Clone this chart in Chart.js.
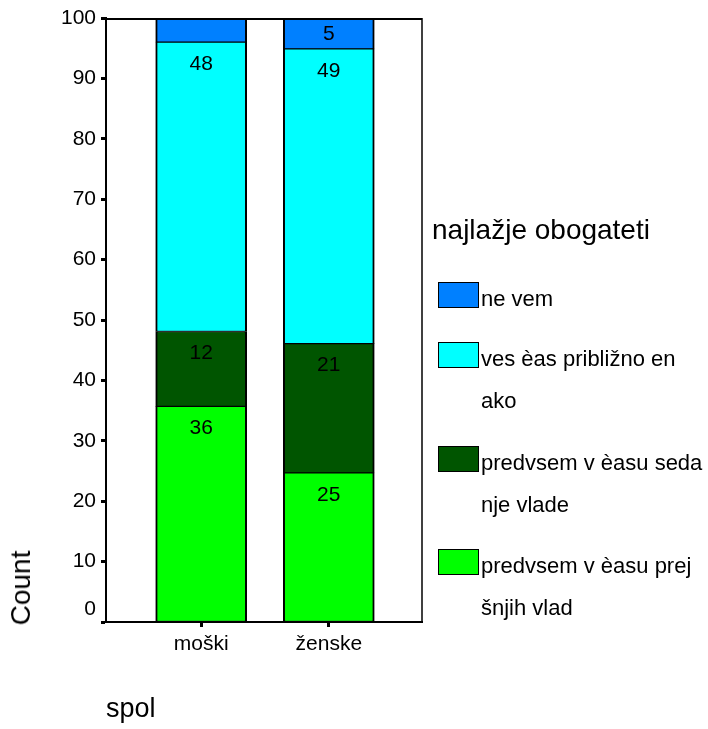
<!DOCTYPE html>
<html>
<head>
<meta charset="utf-8">
<script src="https://cdn.jsdelivr.net/npm/chart.js@4/dist/chart.umd.min.js"></script>
<style>
html,body{margin:0;padding:0;background:#fff;}
#wrap{position:relative;width:708px;height:729px;overflow:hidden;font-family:"Liberation Sans",Arial,sans-serif;color:#000;}
canvas{position:absolute;left:0;top:0;}
.t{position:absolute;white-space:nowrap;line-height:1;}
.box{position:absolute;box-sizing:border-box;border:1px solid #000;}
</style>
</head>
<body>
<div id="wrap">
<canvas id="c" width="708" height="729"></canvas>
<div id="legend"></div>
<div class="t" id="ytitle" style="font-size:28px;left:21px;top:588px;transform:translate(-50%,-50%) rotate(-90deg);">Count</div>
<div class="t" id="xtitle" style="font-size:27px;left:106px;top:695px;">spol</div>
</div>
<script>
// ---- data ----
const categories = ['moški', 'ženske'];
const seriesNames = [
  'predvsem v èasu prejšnjih vlad',
  'predvsem v èasu sedanje vlade',
  'ves èas približno enako',
  'ne vem'
];
const legendTitle = 'najlažje obogateti';
const legendLines = [
  ['predvsem v èasu prej', 'šnjih vlad'],
  ['predvsem v èasu seda', 'nje vlade'],
  ['ves èas približno en', 'ako'],
  ['ne vem']
];
const prejsnjihVlad = [35.7, 24.7];
const sedanjeVlade = [12.4, 21.4];
const pribliznoEnako = [47.9, 48.8];
const neVem = [4.0, 5.1];
const seriesColors = ['#00FF00', '#005500', '#00FFFF', '#0080FF'];
const yTickValues = [0, 10, 20, 30, 40, 50, 60, 70, 80, 90, 100];
// segments whose value label is not printed: [seriesIndex, categoryIndex]
const unlabeled = [[3, 0]];

const seriesValues = [prejsnjihVlad, sedanjeVlade, pribliznoEnako, neVem];

// ---- legend (HTML text) ----
const legendEl = document.getElementById('legend');
const title = document.createElement('div');
title.className = 't';
title.style.cssText = 'font-size:28px;left:432px;top:216px;';
title.textContent = legendTitle;
legendEl.appendChild(title);
const legendOrder = [3, 2, 1, 0];
const boxTops = [282, 342, 446, 549];
legendOrder.forEach((si, k) => {
  const b = document.createElement('div');
  b.className = 'box';
  b.style.cssText = `left:438px;top:${boxTops[k]}px;width:41px;height:26px;background:${seriesColors[si]};`;
  legendEl.appendChild(b);
  legendLines[si].forEach((line, li) => {
    const d = document.createElement('div');
    d.className = 't';
    const baseline = boxTops[k] + 24.5 + li * 41.7;
    d.style.cssText = `font-size:22px;left:481px;top:${(baseline - 0.8465 * 22).toFixed(1)}px;`;
    d.textContent = line;
    legendEl.appendChild(d);
  });
});

// ---- chart ----
const valueLabels = {
  id: 'valueLabels',
  afterDatasetsDraw(chart) {
    const ctx = chart.ctx;
    ctx.save();
    ctx.font = '21px "Liberation Sans", Arial, sans-serif';
    ctx.fillStyle = '#000';
    ctx.textAlign = 'center';
    ctx.textBaseline = 'middle';
    chart.data.datasets.forEach((ds, di) => {
      const meta = chart.getDatasetMeta(di);
      meta.data.forEach((el, i) => {
        if (unlabeled.some(u => u[0] === di && u[1] === i)) return;
        const v = ds.data[i].y;
        const h = el.base - el.y;
        const off = Math.min(21, h / 2);
        ctx.fillText(String(Math.round(v)), el.x, el.y + off + 1);
      });
    });
    ctx.restore();
  }
};
const frame = {
  id: 'frame',
  afterDraw(chart) {
    const a = chart.chartArea, ctx = chart.ctx;
    ctx.save();
    ctx.strokeStyle = '#000';
    ctx.lineWidth = 2;
    ctx.beginPath();
    ctx.moveTo(a.left, a.top + 1);
    ctx.lineTo(a.right, a.top + 1);
    ctx.stroke();
    ctx.lineWidth = 1.5;
    ctx.beginPath();
    ctx.moveTo(a.right, a.top);
    ctx.lineTo(a.right, a.bottom);
    ctx.stroke();
    ctx.restore();
  }
};

new Chart(document.getElementById('c'), {
  type: 'bar',
  data: {
    datasets: seriesValues.map((vals, si) => ({
      label: seriesNames[si],
      data: vals.map((v, i) => ({ x: i, y: v })),
      backgroundColor: seriesColors[si],
      borderColor: '#000',
      borderWidth: { top: 1, bottom: 1, left: 2, right: 2 },
      borderSkipped: false,
      barThickness: 91
    }))
  },
  options: {
    responsive: false,
    animation: false,
    devicePixelRatio: 1,
    events: [],
    layout: { padding: { left: 0, top: 18, right: 286, bottom: 0 } },
    plugins: { legend: { display: false }, tooltip: { enabled: false } },
    scales: {
      x: {
        type: 'linear',
        stacked: true,
        offset: false,
        min: -0.746,
        max: 1.7305,
        afterBuildTicks: (s) => { s.ticks = categories.map((c, i) => ({ value: i })); },
        afterFit: (s) => { s.height = 107; },
        ticks: {
          callback: (v) => categories[v] ?? '',
          color: '#000',
          padding: 5,
          maxRotation: 0,
          font: { family: '"Liberation Sans", Arial, sans-serif', size: 21 }
        },
        grid: { offset: false, drawOnChartArea: false, drawTicks: true, tickLength: 5, tickWidth: 3, tickColor: '#000', color: '#000' },
        border: { display: true, color: '#000', width: 2 }
      },
      y: {
        stacked: true,
        min: 0,
        max: 100,
        afterBuildTicks: (s) => { s.ticks = yTickValues.map(v => ({ value: v })); },
        afterFit: (s) => { s.width = 106; },
        ticks: {
          callback: (v) => v === 0 ? ['0', ''] : String(v),
          color: '#000',
          padding: 5,
          font: { family: '"Liberation Sans", Arial, sans-serif', size: 21 }
        },
        grid: { drawOnChartArea: false, drawTicks: true, tickLength: 5, tickWidth: 3, tickColor: '#000', color: '#000' },
        border: { display: true, color: '#000', width: 2 }
      }
    }
  },
  plugins: [valueLabels, frame]
});
</script>
</body>
</html>
